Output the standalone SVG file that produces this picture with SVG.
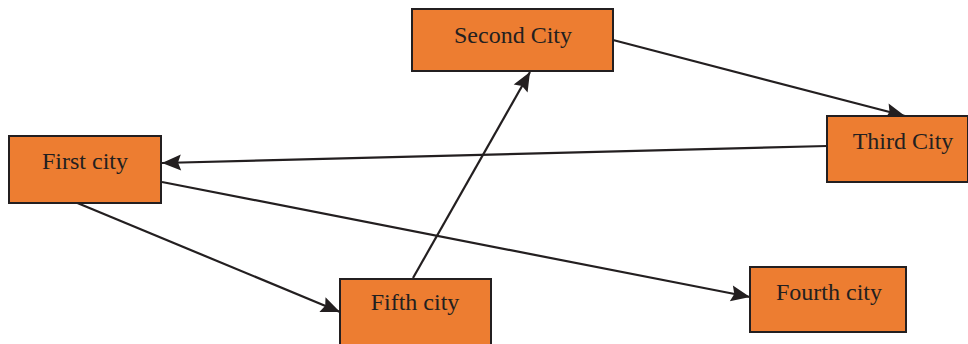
<svg xmlns="http://www.w3.org/2000/svg" width="968" height="344" viewBox="0 0 968 344">
<style>
.box{fill:#ED7D31;stroke:#231F20;stroke-width:2}
.lbl{font-family:"Liberation Serif","Times New Roman",serif;font-size:24px;fill:#231F20;text-anchor:middle}
.edge{stroke:#231F20;stroke-width:2.2;fill:none;marker-end:url(#ah)}
</style>
<defs>
<marker id="ah" markerUnits="userSpaceOnUse" markerWidth="22" markerHeight="18" refX="19" refY="8" orient="auto" overflow="visible">
<path d="M0,0 L19,8 L0,16 L3,8 Z" fill="#231F20"/>
</marker>
</defs>
<rect width="968" height="344" fill="#ffffff"/>
<g id="connectors">
<line class="edge" x1="613" y1="40" x2="905" y2="116"/>
<line class="edge" x1="827" y1="146" x2="162" y2="163"/>
<line class="edge" x1="162" y1="182" x2="750" y2="297"/>
<line class="edge" x1="75" y1="202" x2="340" y2="312"/>
<line class="edge" x1="413" y1="278" x2="530" y2="72"/>
</g>
<g id="second-city">
<rect class="box" x="412" y="9" width="201" height="62"/>
<text class="lbl" x="513" y="43">Second City</text>
</g>
<g id="third-city">
<rect class="box" x="827" y="116" width="141" height="66"/>
<text class="lbl" x="903" y="149">Third City</text>
</g>
<g id="first-city">
<rect class="box" x="9" y="136" width="152" height="67"/>
<text class="lbl" x="85" y="169">First city</text>
</g>
<g id="fifth-city">
<rect class="box" x="340" y="279" width="151" height="68"/>
<text class="lbl" x="415" y="310">Fifth city</text>
</g>
<g id="fourth-city">
<rect class="box" x="750" y="267" width="156" height="65"/>
<text class="lbl" x="829" y="300">Fourth city</text>
</g>
</svg>
